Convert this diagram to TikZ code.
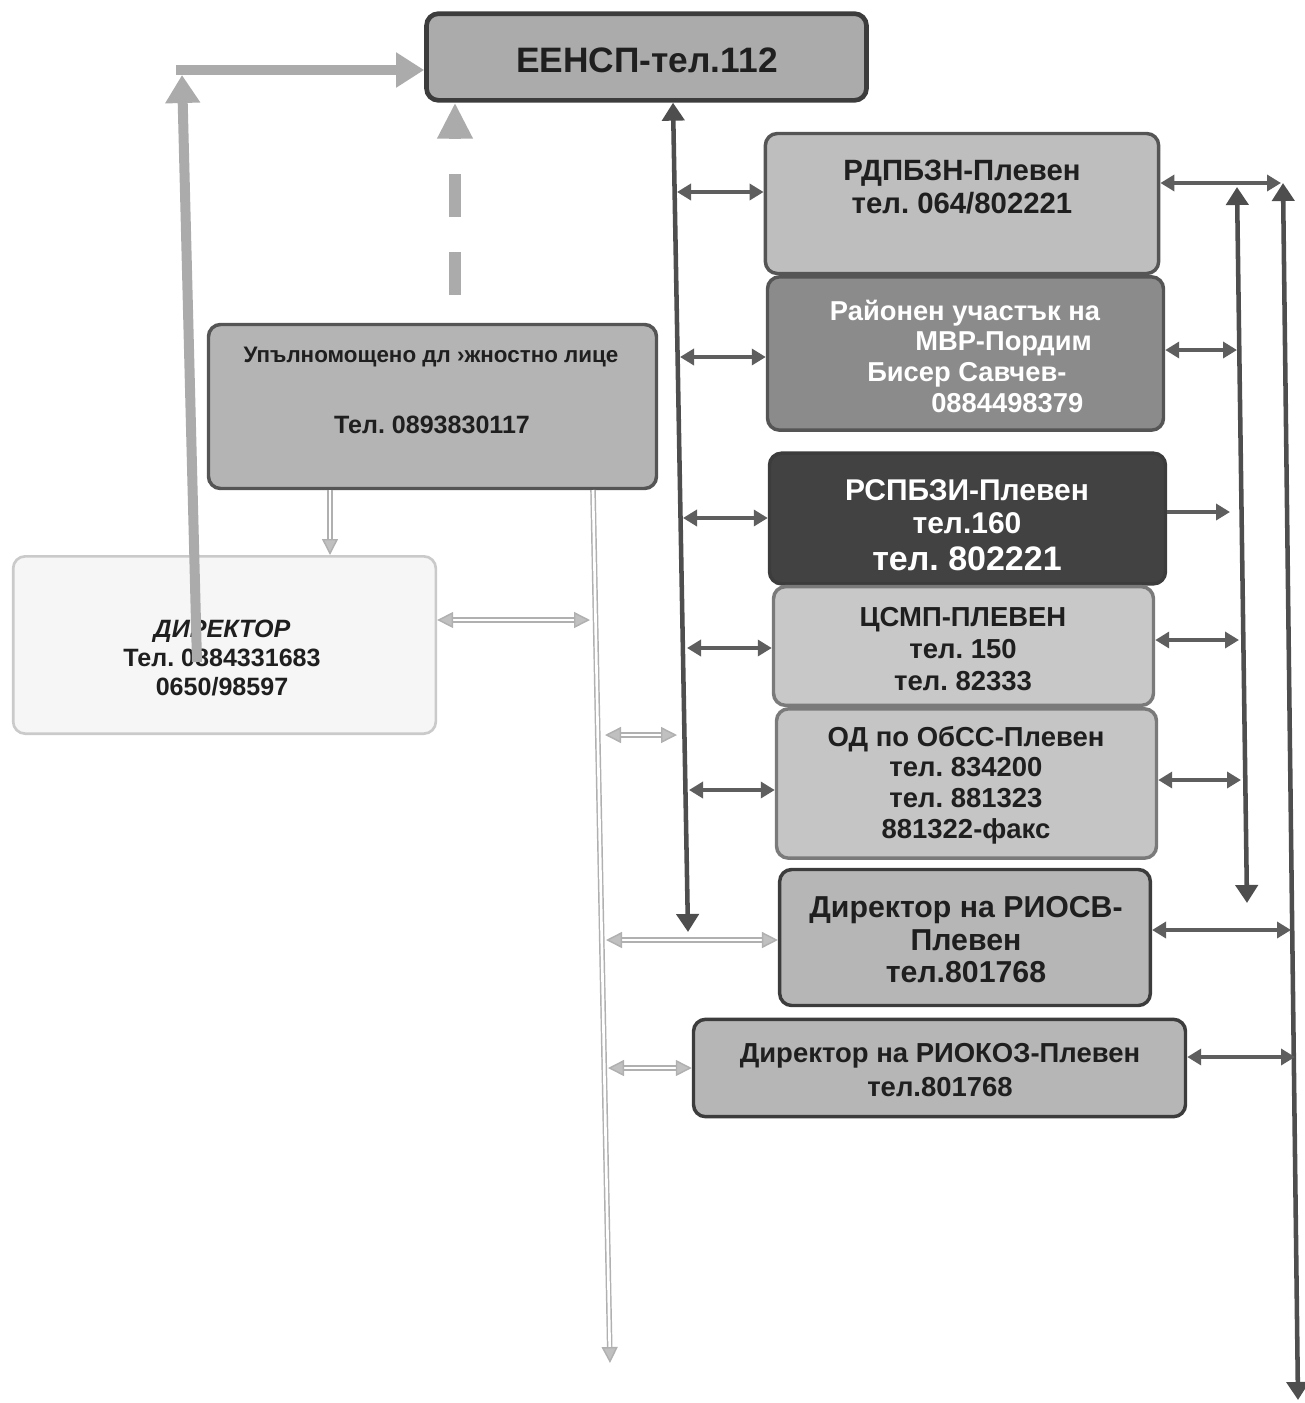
\documentclass[tikz,border=0pt]{standalone}
\usepackage{fontspec}
\setmainfont{Liberation Sans}
\usetikzlibrary{arrows.meta}
\definecolor{ink}{HTML}{1F1F1F}
\definecolor{fEEN}{HTML}{ABABAB}
\definecolor{fRD}{HTML}{BEBEBE}
\definecolor{fRA}{HTML}{8B8B8B}
\definecolor{fRS}{HTML}{424242}
\definecolor{fCS}{HTML}{C8C8C8}
\definecolor{fOD}{HTML}{C5C5C5}
\definecolor{fRI}{HTML}{B6B6B6}
\definecolor{fUP}{HTML}{B4B4B4}
\definecolor{fDI}{HTML}{F6F6F6}
\definecolor{bDark}{HTML}{3C3C3C}
\definecolor{bMid}{HTML}{555555}
\definecolor{bLight}{HTML}{7A7A7A}
\definecolor{bPale}{HTML}{CACACA}
\definecolor{aDark}{HTML}{4E4E4E}
\definecolor{aMid}{HTML}{5E5E5E}
\definecolor{aLight}{HTML}{ABABAB}
\definecolor{aThin}{HTML}{B0B0B0}
\tikzset{
  box/.style={rounded corners=9pt, line width=2.6pt, inner sep=0pt},
  lbl/.style={align=center, inner sep=0pt, text=ink},
  hd/.tip={Triangle[length=10.5pt,width=12pt]},
  vd/.tip={Triangle[length=13.5pt,width=16.5pt]},
  lg/.tip={Triangle[length=21pt,width=25pt]},
  tn/.tip={Triangle[length=12pt,width=12pt,fill=aThin!80]},
  dkh/.style={draw=aMid, line width=2.8pt},
  dkv/.style={draw=aDark, line width=3.4pt},
  lgt/.style={draw=aLight, line width=7.5pt},
  ltd/.style={draw=aThin, double=white, double distance=2pt, line width=1.1pt},
}
\begin{document}
\frenchspacing
\begin{tikzpicture}[x=0.75pt,y=-0.75pt]
\useasboundingbox (0,0) rectangle (1305,1403);
% ---------- boxes ----------
\node[box, draw=bDark, line width=3.5pt, fill=fEEN, minimum width=330pt, minimum height=65pt] (eensp) at (646.5,57) {};
\node[box, draw=bMid, fill=fRD, minimum width=295pt, minimum height=105pt] (rdpbzn) at (962,203.5) {};
\node[box, draw=bMid, fill=fRA, minimum width=297pt, minimum height=115pt] (raion) at (965.5,353.5) {};
\node[box, draw=bDark, fill=fRS, minimum width=297pt, minimum height=98pt] (rspbzi) at (967.5,518.5) {};
\node[box, draw=bLight, fill=fCS, minimum width=285pt, minimum height=89pt] (csmp) at (963.5,646) {};
\node[box, draw=bLight, fill=fOD, minimum width=285pt, minimum height=112pt] (od) at (966.5,783.5) {};
\node[box, draw=bDark, fill=fRI, minimum width=278pt, minimum height=102pt] (riosv) at (965,937.5) {};
\node[box, draw=bDark, fill=fRI, minimum width=369pt, minimum height=73pt] (riokoz) at (939.5,1068) {};
\node[box, draw=bMid, fill=fUP, minimum width=336pt, minimum height=123pt] (upl) at (432.5,406.5) {};
\node[box, draw=bPale, line width=2pt, fill=fDI, minimum width=317pt, minimum height=133pt] (dir) at (224.5,645) {};
% ---------- texts ----------
\node[lbl, font=\bfseries\fontsize{26.5pt}{28pt}\selectfont] (eensp-t) at (647,60) {ЕЕНСП-тел.112};
\node[lbl, font=\bfseries\fontsize{22pt}{24.75pt}\selectfont] (rdpbzn-t) at (962,187) {РДПБЗН-Плевен\\тел. 064/802221};
\node[lbl, align=left, text=white, font=\bfseries\fontsize{20.5pt}{23pt}\selectfont] (raion-t) at (965,356) {Районен участък на\\\hspace*{64pt}МВР-Пордим\\\hspace*{28pt}Бисер Савчев-\\\hspace*{76pt}0884498379};
\node[lbl, text=white, font=\bfseries\fontsize{22.5pt}{24.75pt}\selectfont] (rspbzi-t) at (967,525) {РСПБЗИ-Плевен\\тел.160\\[3pt]{\fontsize{25.5pt}{28pt}\selectfont тел. 802221}};
\node[lbl, font=\bfseries\fontsize{20.6pt}{24pt}\selectfont] (csmp-t) at (963,649) {ЦСМП-ПЛЕВЕН\\тел. 150\\тел. 82333};
\node[lbl, font=\bfseries\fontsize{20.6pt}{23pt}\selectfont] (od-t) at (966,785) {ОД по ОбСС-Плевен\\тел. 834200\\тел. 881323\\881322-факс};
\node[lbl, font=\bfseries\fontsize{22.7pt}{24.4pt}\selectfont] (riosv-t) at (966,940) {Директор на РИОСВ-\\Плевен\\тел.801768};
\node[lbl, font=\bfseries\fontsize{20.6pt}{25.5pt}\selectfont] (riokoz-t) at (940,1070) {Директор на РИОКОЗ-Плевен\\тел.801768};
\node[lbl, font=\bfseries\fontsize{16.8pt}{20pt}\selectfont] (upl-t1) at (431,357) {Упълномощено дл ›жностно лице};
\node[lbl, font=\bfseries\fontsize{18.8pt}{20pt}\selectfont] (upl-t2) at (432,425) {Тел. 0893830117};
\node[lbl, font=\bfseries\fontsize{18.8pt}{21.5pt}\selectfont] (dir-t) at (222,658) {\textit{ДИРЕКТОР}\\Тел. 0884331683\\0650/98597};
% ---------- coordinates ----------
\coordinate (mT) at (673,0);
\coordinate (mB) at (688,932);
\coordinate (h1) at (677,192);
\coordinate (h2) at (680,357);
\coordinate (h3) at (683,518);
\coordinate (h4) at (687,648);
\coordinate (h5) at (689,790);
\coordinate (r1T) at (1237,187);
\coordinate (r1B) at (1247,903);
\coordinate (r2T) at (1283,183);
\coordinate (r2B) at (1298,1400);
\coordinate (q1) at (1281,183);
\coordinate (q2) at (1237,350);
\coordinate (q3) at (1230,512);
\coordinate (q4) at (1239,640);
\coordinate (q5) at (1241,780);
\coordinate (q6) at (1291,930);
\coordinate (q7) at (1295,1057);
\coordinate (lA) at (330,0);
\coordinate (lT) at (593,490);
\coordinate (lB) at (610,1363);
\coordinate (t1) at (590,620);
\coordinate (t2a) at (605,735);
\coordinate (t2b) at (677,735);
\coordinate (t3) at (606,940);
\coordinate (t4) at (608,1068);
\coordinate (gB) at (197,662);
\coordinate (gT) at (182,75);
\coordinate (gH) at (176,70);
\coordinate (dS) at (455,295);
% ---------- dark connectors ----------
\draw[dkv, vd-vd] (eensp.south -| mT) -- (mB);
\draw[dkh, hd-hd] (h1) -- (h1 -| rdpbzn.west);
\draw[dkh, hd-hd] (h2) -- (h2 -| raion.west);
\draw[dkh, hd-hd] (h3) -- (h3 -| rspbzi.west);
\draw[dkh, hd-hd] (h4) -- (h4 -| csmp.west);
\draw[dkh, hd-hd] (h5) -- (h5 -| od.west);
\draw[dkv, vd-vd] (r1B) -- (r1T);
\draw[dkv, vd-vd] (r2B) -- (r2T);
\draw[dkh, hd-hd] (q1 -| rdpbzn.east) -- (q1);
\draw[dkh, hd-hd] (q2 -| raion.east) -- (q2);
\draw[dkh, -hd] (q3 -| rspbzi.east) -- (q3);
\draw[dkh, hd-hd] (q4 -| csmp.east) -- (q4);
\draw[dkh, hd-hd] (q5 -| od.east) -- (q5);
\draw[dkh, hd-hd] (q6 -| riosv.east) -- (q6);
\draw[dkh, hd-hd] (q7 -| riokoz.east) -- (q7);
% ---------- light thin connectors ----------
\draw[ltd, -tn] (upl.south -| lA) -- (dir.north -| lA);
\draw[ltd, -tn] (lT) -- (lB);
\draw[ltd, tn-tn] (t1 -| dir.east) -- (t1);
\draw[ltd, tn-tn] (t2a) -- (t2b);
\draw[ltd, tn-tn] (t3) -- (t3 -| riosv.west);
\draw[ltd, tn-tn] (t4) -- (t4 -| riokoz.west);
% ---------- light thick connectors ----------
\draw[lgt, -lg] (gB) -- (gT);
\draw[lgt, -lg] (gH) -- (gH -| eensp.west);
\draw[draw=aLight, line width=8.5pt, dash pattern=on 32.25pt off 26.25pt, -{Triangle[length=27pt,width=25pt]}] (dS) -- (eensp.south -| dS);
\end{tikzpicture}
\end{document}
